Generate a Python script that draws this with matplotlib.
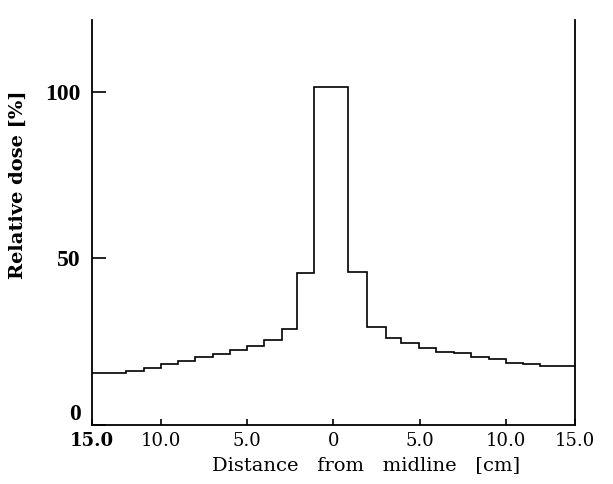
import matplotlib
matplotlib.use("Agg")
import matplotlib.pyplot as plt

# step profile (cm from midline, relative dose %)
edges = [-14, -12, -11, -10, -9, -8, -7, -6, -5, -4, -3, -2.1, -1.13,
         0.83, 1.93, 3.05, 3.9, 4.93, 5.96, 7.0, 8.0, 9.0, 10.0, 11.0, 12.0, 14.0]
dose = [15.5, 16.2, 17.0, 18.2, 19.2, 20.3, 21.2, 22.5, 23.7, 25.5, 28.8, 45.7,
        101.3, 45.9, 29.3, 26.0, 24.7, 23.2, 22.0, 21.5, 20.3, 19.7, 18.7, 18.3, 17.7]

xtick_pos = [-14, -10, -5, 0, 5, 10, 14]
xtick_lab = ['15.0', '10.0', '5.0', '0', '5.0', '10.0', '15.0']
ytick_pos = [0, 50, 100]
ytick_lab = ['0', '50', '100']

fig = plt.figure(figsize=(6.13, 4.84), dpi=100)
ax = fig.add_axes([0.150, 0.122, 0.788, 0.837])

ax.stairs(dose, edges, baseline=None, color='black', linewidth=1.2)

ax.set_xlim(-14, 14)
ax.set_ylim(0, 121.5)
ax.spines['top'].set_visible(False)
for s in ['left', 'right', 'bottom']:
    ax.spines[s].set_linewidth(1.3)

ax.set_xticks(xtick_pos)
ax.set_xticklabels(xtick_lab, family='DejaVu Serif', fontsize=13)
ax.get_xticklabels()[0].set_fontweight('bold')
ax.set_yticks(ytick_pos)
ax.set_yticklabels(ytick_lab, family='Liberation Serif', fontsize=17, fontweight='bold')
ax.tick_params(axis='x', direction='in', length=4, width=1.2, pad=5)
ax.tick_params(axis='y', direction='in', length=10, width=1.2, pad=8)
ax.get_yticklabels()[0].set_va('bottom')

ax.set_xlabel('Distance   from   midline   [cm]', family='DejaVu Serif', fontsize=14)
ax.xaxis.set_label_coords(0.567, -0.076)
ax.set_ylabel('Relative dose [%]', family='DejaVu Serif', fontsize=14, fontweight='bold')
ax.yaxis.set_label_coords(-0.135, 0.593)

fig.savefig('out.png', dpi=100)
